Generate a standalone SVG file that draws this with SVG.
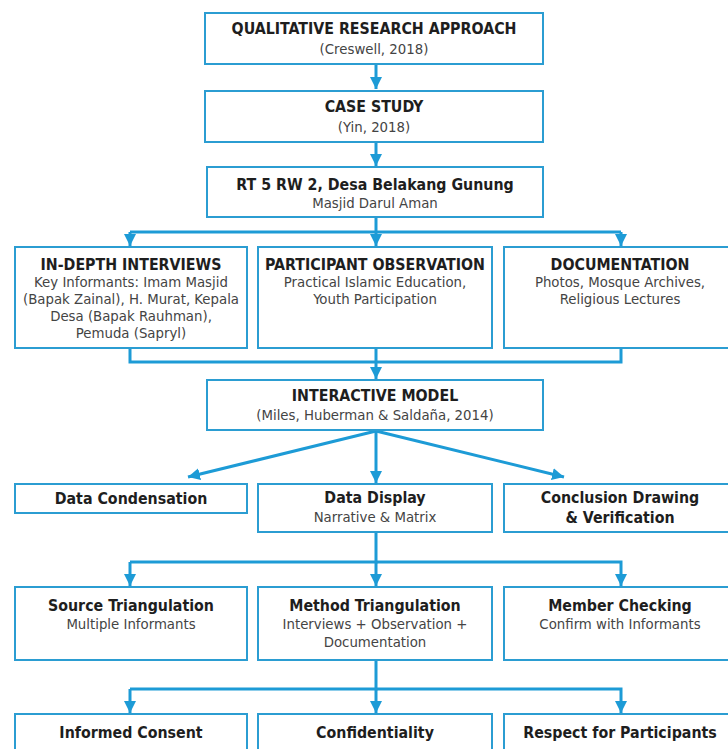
<svg xmlns="http://www.w3.org/2000/svg" width="728" height="749" viewBox="0 0 728 749">
<defs>
<style>
.box{fill:#fff;stroke:#2b9dd2;stroke-width:2}
.t{font-family:"DejaVu Sans Condensed","DejaVu Sans",sans-serif;font-weight:bold;font-size:15.8px;fill:#1e1e1e;text-anchor:middle}
.s{font-family:"DejaVu Sans Condensed","DejaVu Sans",sans-serif;font-size:14.8px;fill:#444;text-anchor:middle}
.c{fill:none;stroke:#1d9bd6;stroke-width:3}
</style>
<marker id="ah" viewBox="0 0 12 12" refX="12" refY="6" markerWidth="12" markerHeight="12" markerUnits="userSpaceOnUse" orient="auto">
<path d="M0,0 L12,6 L0,12 Z" fill="#1d9bd6"/>
</marker>
</defs>
<rect width="728" height="749" fill="#fff"/>
<g id="connectors">
<path class="c" d="M376,64 V89" marker-end="url(#ah)"/>
<path class="c" d="M376,142 V166" marker-end="url(#ah)"/>
<path class="c" d="M376,217 V246" marker-end="url(#ah)"/>
<path class="c" d="M130,232 H621"/>
<path class="c" d="M130,232 V246" marker-end="url(#ah)"/>
<path class="c" d="M621,232 V246" marker-end="url(#ah)"/>
<path class="c" d="M130,348 V362 H621 V348"/>
<path class="c" d="M376,348 V379" marker-end="url(#ah)"/>
<path class="c" d="M376,431 L188,477" marker-end="url(#ah)"/>
<path class="c" d="M376,431 V483" marker-end="url(#ah)"/>
<path class="c" d="M376,431 L564,477" marker-end="url(#ah)"/>
<path class="c" d="M376,532 V562 H130"/>
<path class="c" d="M130,562 V586" marker-end="url(#ah)"/>
<path class="c" d="M376,562 V586" marker-end="url(#ah)"/>
<path class="c" d="M376,562 H621 V586" marker-end="url(#ah)"/>
<path class="c" d="M376,660 V689 H130"/>
<path class="c" d="M130,689 V713" marker-end="url(#ah)"/>
<path class="c" d="M376,689 V713" marker-end="url(#ah)"/>
<path class="c" d="M376,689 H621 V713" marker-end="url(#ah)"/>
</g>
<g id="qualitative">
<rect class="box" x="205" y="13" width="338" height="51"/>
<text class="t" x="374" y="34">QUALITATIVE RESEARCH APPROACH</text>
<text class="s" x="374" y="54">(Creswell, 2018)</text>
</g>
<g id="casestudy">
<rect class="box" x="205" y="91" width="338" height="51"/>
<text class="t" x="374" y="112">CASE STUDY</text>
<text class="s" x="374" y="132">(Yin, 2018)</text>
</g>
<g id="location">
<rect class="box" x="207" y="167" width="336" height="50"/>
<text class="t" x="375" y="190">RT 5 RW 2, Desa Belakang Gunung</text>
<text class="s" x="375" y="208">Masjid Darul Aman</text>
</g>
<g id="interviews">
<rect class="box" x="15" y="247" width="232" height="101"/>
<text class="t" x="131" y="270">IN-DEPTH INTERVIEWS</text>
<text class="s" x="131" y="287">Key Informants: Imam Masjid</text>
<text class="s" x="131" y="304">(Bapak Zainal), H. Murat, Kepala</text>
<text class="s" x="131" y="321">Desa (Bapak Rauhman),</text>
<text class="s" x="131" y="338">Pemuda (Sapryl)</text>
</g>
<g id="observation">
<rect class="box" x="258" y="247" width="234" height="101"/>
<text class="t" x="375" y="270">PARTICIPANT OBSERVATION</text>
<text class="s" x="375" y="287">Practical Islamic Education,</text>
<text class="s" x="375" y="304">Youth Participation</text>
</g>
<g id="documentation">
<rect class="box" x="504" y="247" width="234" height="101"/>
<text class="t" x="620" y="270">DOCUMENTATION</text>
<text class="s" x="620" y="287">Photos, Mosque Archives,</text>
<text class="s" x="620" y="304">Religious Lectures</text>
</g>
<g id="interactive">
<rect class="box" x="207" y="380" width="336" height="50"/>
<text class="t" x="375" y="401">INTERACTIVE MODEL</text>
<text class="s" x="375" y="420">(Miles, Huberman &amp; Saldaña, 2014)</text>
</g>
<g id="condensation">
<rect class="box" x="15" y="484" width="232" height="29"/>
<text class="t" x="131" y="504">Data Condensation</text>
</g>
<g id="display">
<rect class="box" x="258" y="484" width="234" height="48"/>
<text class="t" x="375" y="503">Data Display</text>
<text class="s" x="375" y="522">Narrative &amp; Matrix</text>
</g>
<g id="conclusion">
<rect class="box" x="504" y="484" width="234" height="48"/>
<text class="t" x="620" y="503">Conclusion Drawing</text>
<text class="t" x="620" y="523">&amp; Verification</text>
</g>
<g id="source">
<rect class="box" x="15" y="587" width="232" height="73"/>
<text class="t" x="131" y="611">Source Triangulation</text>
<text class="s" x="131" y="629">Multiple Informants</text>
</g>
<g id="method">
<rect class="box" x="258" y="587" width="234" height="73"/>
<text class="t" x="375" y="611">Method Triangulation</text>
<text class="s" x="375" y="629">Interviews + Observation +</text>
<text class="s" x="375" y="647">Documentation</text>
</g>
<g id="member">
<rect class="box" x="504" y="587" width="234" height="73"/>
<text class="t" x="620" y="611">Member Checking</text>
<text class="s" x="620" y="629">Confirm with Informants</text>
</g>
<g id="consent">
<rect class="box" x="15" y="714" width="232" height="50"/>
<text class="t" x="131" y="738">Informed Consent</text>
</g>
<g id="confidentiality">
<rect class="box" x="258" y="714" width="234" height="50"/>
<text class="t" x="375" y="738">Confidentiality</text>
</g>
<g id="respect">
<rect class="box" x="504" y="714" width="234" height="50"/>
<text class="t" x="620" y="738">Respect for Participants</text>
</g>
</svg>
